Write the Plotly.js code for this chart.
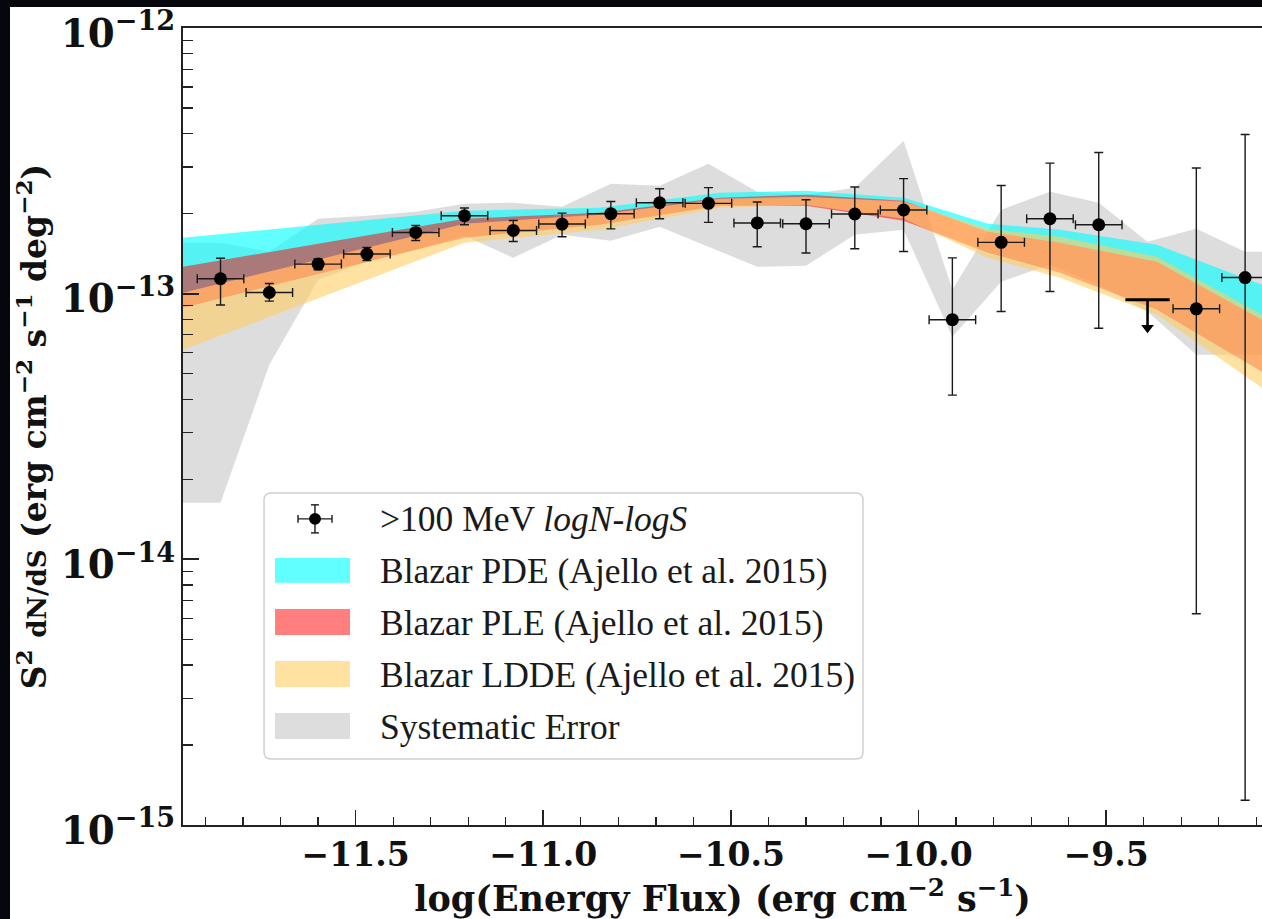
<!DOCTYPE html>
<html>
<head>
<meta charset="utf-8">
<script src="https://cdn.plot.ly/plotly-3.0.1.min.js"></script>
<style>
  html, body { margin: 0; padding: 0; background: #05070c; overflow: hidden; width: 1262px; height: 919px; }
  #chart { position: absolute; left: 0; top: 0; width: 1262px; height: 919px; background: #fff; }
  .strip { position: absolute; background: #05070c; z-index: 5; }
</style>
</head>
<body>
<div id="chart"></div>
<div class="strip" style="left:0;top:0;width:1262px;height:7px;"></div>
<div class="strip" style="left:0;top:0;width:10px;height:919px;"></div>
<script>
// ---------- data: >100 MeV logN-logS points ----------
const logS = [-11.86, -11.73, -11.60, -11.47, -11.34, -11.21, -11.08, -10.95, -10.82, -10.69, -10.56,
              -10.43, -10.30, -10.17, -10.04, -9.91, -9.78, -9.65, -9.52, -9.26, -9.13];
const s2dnds = [1.138e-13, 1.01e-13, 1.292e-13, 1.41e-13, 1.70e-13, 1.965e-13, 1.73e-13, 1.828e-13, 2.0e-13,
                2.199e-13, 2.188e-13, 1.846e-13, 1.833e-13, 1.995e-13, 2.065e-13, 7.98e-14, 1.56e-13,
                1.914e-13, 1.817e-13, 8.77e-14, 1.15e-13];
const s2dndsHi = [1.36e-13, 1.092e-13, 1.353e-13, 1.493e-13, 1.807e-13, 2.10e-13, 1.886e-13, 2.01e-13, 2.224e-13,
                  2.483e-13, 2.506e-13, 2.213e-13, 2.257e-13, 2.52e-13, 2.71e-13, 1.364e-13, 2.555e-13,
                  3.1e-13, 3.4e-13, 2.97e-13, 3.974e-13];
const s2dndsLo = [9.06e-14, 9.37e-14, 1.23e-13, 1.333e-13, 1.585e-13, 1.817e-13, 1.572e-13, 1.637e-13, 1.754e-13,
                  1.914e-13, 1.855e-13, 1.502e-13, 1.422e-13, 1.476e-13, 1.442e-13, 4.15e-14, 8.57e-14,
                  1.019e-13, 7.41e-14, 6.24e-15, 1.24e-15];
const binHalfWidth = 0.062;

// upper limit
const ulX = [-9.39];
const ulY = [9.48e-14];
const ulArrowTip = [7.45e-14];
const ulHalfWidth = 0.059;

// ---------- model bands (Ajello et al. 2015) ----------
const modelX = [-11.96, -11.21, -10.85, -10.53, -10.30, -10.04, -9.815, -9.623, -9.365, -9.085];
const pdeHi  = [1.624e-13, 2.052e-13, 2.106e-13, 2.398e-13, 2.44e-13, 2.296e-13, 1.833e-13, 1.74e-13, 1.528e-13, 1.08e-13];
const pdeLo  = [1.008e-13, 1.833e-13, 1.999e-13, 2.257e-13, 2.296e-13, 2.238e-13, 1.71e-13, 1.555e-13, 1.318e-13, 7.97e-14];
const pleHi  = [1.263e-13, 1.914e-13, 2.017e-13, 2.296e-13, 2.357e-13, 2.238e-13, 1.71e-13, 1.555e-13, 1.318e-13, 7.97e-14];
const pleLo  = [8.85e-14, 1.624e-13, 1.817e-13, 2.143e-13, 2.143e-13, 1.882e-13, 1.426e-13, 1.199e-13, 8.70e-14, 5.08e-14];
const lddeHi = [1.008e-13, 1.833e-13, 1.982e-13, 2.276e-13, 2.316e-13, 2.218e-13, 1.755e-13, 1.638e-13, 1.377e-13, 8.33e-14];
const lddeLo = [6.15e-14, 1.555e-13, 1.74e-13, 2.106e-13, 2.161e-13, 1.914e-13, 1.365e-13, 1.148e-13, 8.33e-14, 4.42e-14];

// ---------- systematic error band ----------
const sysX = [-11.96, -11.86, -11.73, -11.60, -11.47, -11.34, -11.21, -11.08, -10.95, -10.82, -10.69, -10.56,
              -10.43, -10.30, -10.17, -10.04, -9.91, -9.78, -9.65, -9.52, -9.39, -9.26, -9.13, -9.085];
const sysHi = [1.555e-13, 1.555e-13, 1.438e-13, 1.914e-13, 1.965e-13, 2.034e-13, 2.18e-13, 2.199e-13, 2.124e-13,
               2.593e-13, 2.548e-13, 3.083e-13, 2.419e-13, 2.357e-13, 2.504e-13, 3.764e-13, 1.034e-13, 2.07e-13,
               2.419e-13, 2.199e-13, 1.568e-13, 1.755e-13, 1.438e-13, 1.438e-13];
const sysLo = [1.632e-14, 1.632e-14, 5.40e-14, 1.128e-13, 1.318e-13, 1.463e-13, 1.652e-13, 1.365e-13, 1.667e-13,
               1.582e-13, 1.786e-13, 1.502e-13, 1.263e-13, 1.274e-13, 1.667e-13, 1.74e-13, 6.88e-14, 1.109e-13,
               1.285e-13, 1.08e-13, 8.55e-14, 5.89e-14, 5.89e-14, 5.89e-14];

// legend labels
const legendLabels = ['&gt;100 MeV <i>logN-logS</i>', 'Blazar PDE (Ajello et al. 2015)',
                      'Blazar PLE (Ajello et al. 2015)', 'Blazar LDDE (Ajello et al. 2015)', 'Systematic Error'];

const colPDE = 'rgba(0,255,255,0.62)';
const colPLE = 'rgba(255,0,0,0.5)';
const colLDDE = 'rgba(255,205,100,0.6)';
const colSYS = 'rgba(128,128,128,0.27)';

function band(x, hi, lo, color, name) {
  return {
    x: x.concat(x.slice().reverse()),
    y: hi.concat(lo.slice().reverse()),
    type: 'scatter', mode: 'lines', fill: 'toself', fillcolor: color,
    line: {width: 0, color: color}, hoverinfo: 'skip', showlegend: false, name: name
  };
}

const traces = [
  band(sysX, sysHi, sysLo, colSYS, 'Systematic Error'),
  band(modelX, pdeHi, pdeLo, colPDE, 'Blazar PDE'),
  band(modelX, pleHi, pleLo, colPLE, 'Blazar PLE'),
  band(modelX, lddeHi, lddeLo, colLDDE, 'Blazar LDDE'),
  {
    x: logS, y: s2dnds, type: 'scatter', mode: 'markers', showlegend: false,
    marker: {color: '#000', size: 13},
    error_y: {type: 'data', symmetric: false,
              array: s2dndsHi.map((h, i) => h - s2dnds[i]),
              arrayminus: s2dndsLo.map((l, i) => s2dnds[i] - l),
              color: '#1a1a1a', thickness: 1.4, width: 4.5},
    error_x: {type: 'constant', value: binHalfWidth, color: '#1a1a1a', thickness: 1.4, width: 4.5}
  },
  {
    x: ulX, y: ulY, type: 'scatter', mode: 'markers', showlegend: false,
    marker: {color: 'rgba(0,0,0,0)', size: 1},
    error_x: {type: 'constant', value: ulHalfWidth, color: '#000', thickness: 3, width: 0},
    error_y: {type: 'data', symmetric: false, array: [0],
              arrayminus: ulY.map((v, i) => v - ulArrowTip[i]), color: '#000', thickness: 2.6, width: 0}
  },
  {
    x: ulX, y: ulArrowTip, type: 'scatter', mode: 'markers', showlegend: false,
    marker: {color: '#000', size: 11, symbol: 'triangle-down'}
  }
];

// ---------- hand-built legend (matplotlib style) ----------
const L = {x0: 0.0751, x1: 0.6302, y0: 0.0828, y1: 0.4167, rx: 0.0065, ry: 0.0088};
const boxPath = `M${L.x0 + L.rx},${L.y0} L${L.x1 - L.rx},${L.y0} Q${L.x1},${L.y0} ${L.x1},${L.y0 + L.ry} ` +
  `L${L.x1},${L.y1 - L.ry} Q${L.x1},${L.y1} ${L.x1 - L.rx},${L.y1} L${L.x0 + L.rx},${L.y1} ` +
  `Q${L.x0},${L.y1} ${L.x0},${L.y1 - L.ry} L${L.x0},${L.y0 + L.ry} Q${L.x0},${L.y0} ${L.x0 + L.rx},${L.y0} Z`;

const swX0 = 0.0853, swX1 = 0.1548;
const swatchRows = [[0.3038, 0.3351, colPDE], [0.2385, 0.2711, colPLE], [0.1732, 0.2058, colLDDE], [0.1079, 0.1406, colSYS]];
const textY = [0.3841, 0.3188, 0.2535, 0.1883, 0.1230];

const shapes = [
  {type: 'path', xref: 'paper', yref: 'paper', path: boxPath, fillcolor: 'rgba(255,255,255,0.8)',
   line: {color: '#d0d0d0', width: 1.5}}
];
swatchRows.forEach(r => shapes.push({type: 'rect', xref: 'paper', yref: 'paper', x0: swX0, x1: swX1, y0: r[0], y1: r[1],
  fillcolor: r[2], line: {width: 0}}));
// data-point legend symbol
const sc = {x: 0.1223, y: 0.3841};
const ln = {color: '#1a1a1a', width: 1.4};
shapes.push({type: 'line', xref: 'paper', yref: 'paper', x0: sc.x, x1: sc.x, y0: 0.3665, y1: 0.4017, line: ln});
shapes.push({type: 'line', xref: 'paper', yref: 'paper', x0: sc.x - 0.0037, x1: sc.x + 0.0037, y0: 0.3665, y1: 0.3665, line: ln});
shapes.push({type: 'line', xref: 'paper', yref: 'paper', x0: sc.x - 0.0037, x1: sc.x + 0.0037, y0: 0.4017, y1: 0.4017, line: ln});
shapes.push({type: 'line', xref: 'paper', yref: 'paper', x0: 0.1066, x1: 0.1381, y0: sc.y, y1: sc.y, line: ln});
shapes.push({type: 'line', xref: 'paper', yref: 'paper', x0: 0.1066, x1: 0.1066, y0: sc.y - 0.005, y1: sc.y + 0.005, line: ln});
shapes.push({type: 'line', xref: 'paper', yref: 'paper', x0: 0.1381, x1: 0.1381, y0: sc.y - 0.005, y1: sc.y + 0.005, line: ln});
shapes.push({type: 'circle', xref: 'paper', yref: 'paper', x0: 0.1168, x1: 0.1279, y0: 0.3766, y1: 0.3916,
  fillcolor: '#000', line: {width: 0}});

const annotations = legendLabels.map((t, i) => ({
  xref: 'paper', yref: 'paper', x: 0.1808, y: textY[i], xanchor: 'left', yanchor: 'middle',
  text: t, showarrow: false, font: {family: 'Liberation Serif', size: 35.5, color: '#1a1a1a'}
}));

const tickFontX = {family: 'DejaVu Serif', size: 33, color: '#111', weight: 'bold'};
const tickFontY = {family: 'DejaVu Serif', size: 31, color: '#111', weight: 'bold'};

const layout = {
  width: 1262, height: 919,
  margin: {l: 183, r: 0, t: 28, b: 94, pad: 0},
  paper_bgcolor: '#fff', plot_bgcolor: '#fff',
  showlegend: false,
  xaxis: {
    range: [-11.96, -9.085], showgrid: false, zeroline: false,
    showline: true, linecolor: '#222', linewidth: 1.6, mirror: true,
    ticks: 'inside', ticklen: 15, tickwidth: 1.6, tickcolor: '#222',
    tick0: -11.5, dtick: 0.5, tickformat: '.1f', tickfont: tickFontX, ticklabeloverflow: 'allow',
    minor: {dtick: 0.1, ticks: 'inside', ticklen: 8, tickwidth: 1.3, tickcolor: '#222', showgrid: false},
    title: {text: '<b>log(Energy Flux) (erg cm<sup>−2</sup> s<sup>−1</sup>)</b>', standoff: 0,
            font: {family: 'DejaVu Serif', size: 35, color: '#111', weight: 'bold'}}
  },
  yaxis: {
    type: 'log', range: [-15, -12], showgrid: false, zeroline: false,
    showline: true, linecolor: '#222', linewidth: 1.6, mirror: false,
    ticks: 'inside', ticklen: 16, tickwidth: 2, tickcolor: '#222',
    dtick: 1, exponentformat: 'power', showexponent: 'all', tickfont: tickFontY,
    ticklabeloverflow: 'allow', ticklabelshift: 5,
    minor: {dtick: 'D1', ticks: 'inside', ticklen: 10, tickwidth: 1.3, tickcolor: '#222', showgrid: false},
    title: {text: '<b>S<sup>2</sup> <span style="font-size:26px">dN/dS</span> (erg cm<sup>−2</sup> s<sup>−1</sup> deg<sup>−2</sup>)</b>',
            standoff: 4, font: {family: 'DejaVu Serif', size: 33, color: '#111', weight: 'bold'}}
  },
  shapes: shapes,
  annotations: annotations
};

Plotly.newPlot('chart', traces, layout, {staticPlot: true, displayModeBar: false});
</script>
</body>
</html>
